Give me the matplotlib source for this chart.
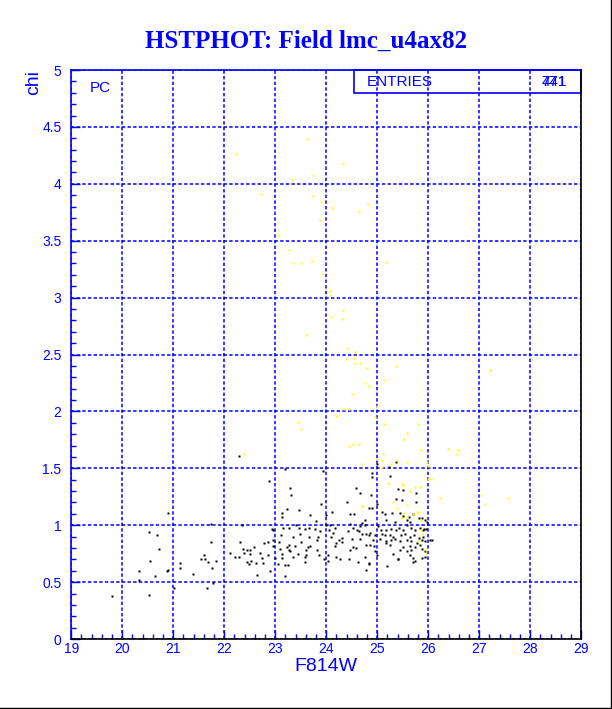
import numpy as np
import matplotlib
matplotlib.use("Agg")
import matplotlib.pyplot as plt
from matplotlib.patches import Rectangle
from matplotlib.ticker import MultipleLocator

# punti "buoni" (neri): F814W, chi
black_x = [23.20, 23.94, 22.88, 23.28, 23.30, 24.58, 24.67, 23.89, 24.40, 23.23,
           23.46, 23.13, 23.13, 23.68, 24.11, 24.47, 24.54, 24.76, 24.83, 23.80,
           23.99, 22.34, 22.93, 22.95, 23.15, 23.26, 23.40, 23.47, 23.58, 23.66,
           23.78, 23.88, 23.99, 24.07, 24.17, 24.05, 24.14, 24.46, 24.52, 24.60,
           24.66, 24.75, 24.42, 24.65, 24.77, 23.12, 23.34, 23.48, 23.67, 23.84,
           24.09, 24.31, 24.24, 24.50, 24.67, 24.83, 22.95, 23.27, 23.50, 23.81,
           24.20, 24.30, 22.77, 22.86, 22.95, 23.08, 22.31, 22.58, 23.23, 23.39,
           23.64, 23.68, 24.18, 24.53, 24.58, 24.77, 22.37, 22.44, 22.50, 23.09,
           23.27, 23.60, 23.81, 24.46, 22.11, 22.39, 22.50, 22.70, 22.86, 23.13,
           23.29, 23.45, 23.60, 23.86, 24.04, 22.21, 22.28, 22.44, 22.52, 22.62,
           22.74, 22.75, 22.99, 23.13, 23.34, 23.59, 23.96, 24.20, 24.27, 24.45,
           24.75, 22.48, 23.06, 23.20, 23.25, 23.58, 24.03, 24.62, 22.90, 24.78,
           22.64, 23.19,
           20.89, 21.73, 20.52, 20.69, 20.72, 21.73, 20.54, 20.32, 20.32, 20.65,
           20.87, 20.89, 21.13, 21.13, 21.39, 21.54, 21.60, 21.62, 21.69, 21.83,
           21.75, 21.01, 21.67, 21.77, 19.79, 20.52, 22.29,
           24.90, 24.90, 25.25, 24.88, 25.40, 25.51, 25.75, 25.00, 25.48, 25.75,
           24.90, 25.09, 25.15, 25.28, 25.45, 25.50, 25.63, 25.71, 25.82, 25.17,
           25.34, 25.58, 25.64, 25.87, 25.94, 25.97, 24.71, 25.02, 25.07, 25.18,
           25.26, 25.37, 25.43, 25.51, 25.59, 25.67, 25.74, 25.84, 25.90, 25.96,
           24.70, 24.86, 24.96, 25.09, 25.15, 25.24, 25.31, 25.46, 25.54, 25.64,
           25.72, 25.82, 25.90, 26.07, 24.92, 25.05, 25.17, 25.26, 25.35, 25.45,
           25.58, 25.67, 25.78, 25.87, 25.94, 25.17, 25.25, 24.93, 24.86, 25.51,
           25.64, 25.74, 25.84, 25.45, 25.58, 25.67, 25.87, 25.94, 24.96, 24.99,
           25.31, 25.64, 25.71, 25.87, 25.94, 25.40, 25.19, 24.84, 25.73, 24.84,
           25.71, 25.41, 25.92, 26.03, 25.22, 25.37, 25.00, 25.37]
black_y = [1.49, 1.48, 1.39, 1.33, 1.27, 1.33, 1.28, 1.19, 1.20, 1.14,
           1.13, 1.11, 1.07, 1.09, 1.12, 1.10, 1.10, 1.05, 1.15, 1.04,
           1.09, 1.00, 0.97, 0.96, 0.98, 0.98, 1.00, 0.98, 0.97, 0.98,
           0.97, 0.95, 1.00, 1.00, 0.98, 0.96, 0.93, 1.01, 0.98, 0.96,
           0.99, 1.00, 0.95, 0.95, 0.92, 0.91, 0.90, 0.92, 0.90, 0.90,
           0.90, 0.89, 0.87, 0.88, 0.88, 0.91, 0.87, 0.83, 0.85, 0.87,
           0.84, 0.85, 0.84, 0.85, 0.82, 0.85, 0.85, 0.81, 0.81, 0.82,
           0.81, 0.82, 0.82, 0.81, 0.80, 0.83, 0.79, 0.78, 0.78, 0.79,
           0.78, 0.78, 0.78, 0.78, 0.76, 0.76, 0.75, 0.76, 0.74, 0.75,
           0.77, 0.75, 0.74, 0.74, 0.74, 0.72, 0.72, 0.68, 0.69, 0.67,
           0.71, 0.67, 0.71, 0.71, 0.72, 0.72, 0.70, 0.72, 0.70, 0.70,
           0.72, 0.66, 0.66, 0.65, 0.65, 0.68, 0.69, 0.68, 0.60, 0.61,
           0.56, 0.55,
           1.11, 1.01, 0.94, 0.91, 0.79, 0.85, 0.69, 0.60, 0.52, 0.55,
           0.60, 0.61, 0.67, 0.62, 0.57, 0.70, 0.74, 0.70, 0.68, 0.69,
           0.62, 0.45, 0.45, 0.49, 0.38, 0.39, 1.61,
           1.46, 1.42, 1.43, 1.27, 1.32, 1.31, 1.28, 1.19, 1.22, 1.20,
           1.15, 1.12, 1.10, 1.11, 1.11, 1.08, 1.07, 1.10, 1.06, 1.05,
           1.03, 1.05, 1.03, 1.06, 1.05, 1.03, 1.02, 0.99, 0.96, 0.96,
           0.97, 0.96, 0.98, 0.96, 1.00, 0.98, 0.96, 0.98, 0.96, 0.97,
           0.92, 0.93, 0.91, 0.92, 0.91, 0.91, 0.90, 0.91, 0.92, 0.90,
           0.91, 0.89, 0.90, 0.87, 0.87, 0.88, 0.86, 0.87, 0.88, 0.86,
           0.87, 0.86, 0.84, 0.87, 0.86, 0.84, 0.83, 0.82, 0.83, 0.81,
           0.82, 0.81, 0.83, 0.78, 0.77, 0.78, 0.79, 0.77, 0.77, 0.74,
           0.75, 0.74, 0.71, 0.71, 0.72, 0.70, 0.64, 0.66, 0.69, 0.67,
           0.68, 0.70, 0.97, 0.87, 1.51, 1.56, 1.54, 1.23]

# punti scartati (gialli)
yellow_x = [23.62, 22.23, 24.33, 23.73, 23.33, 22.71, 23.73, 23.90, 24.82, 24.11,
            24.64, 23.88, 23.06, 23.26, 23.35, 23.50, 23.72, 23.92, 25.17, 24.08,
            24.07, 24.33, 24.10, 24.31, 23.60, 24.40, 24.56, 24.39, 24.54, 24.56,
            24.66, 24.79, 25.37, 27.21, 25.14, 24.75, 24.83, 24.50, 24.34, 24.45,
            24.99, 24.19, 24.95, 23.44, 23.50, 25.14, 25.80, 25.58, 25.52,
            26.38, 26.58, 26.56, 25.85, 25.11, 24.99, 25.09, 25.38, 25.58, 25.26,
            25.97, 25.99, 25.09, 26.00, 26.05, 25.21, 25.48, 25.50, 25.73, 25.84,
            25.65, 26.23, 27.03, 27.11, 27.56, 25.31, 25.38, 25.58, 25.52, 25.78,
            25.82, 25.71, 25.58, 25.85, 25.86, 25.80, 25.96, 25.87, 22.39, 24.44,
            24.52, 24.64, 24.71, 24.70, 25.49, 25.96]
yellow_y = [4.39, 4.26, 4.17, 4.08, 4.03, 3.91, 3.89, 3.84, 3.82, 3.79,
            3.76, 3.68, 3.55, 3.42, 3.30, 3.30, 3.32, 3.21, 3.31, 3.06,
            3.02, 2.89, 2.83, 2.81, 2.67, 2.56, 2.52, 2.46, 2.47, 2.43,
            2.43, 2.38, 2.40, 2.36, 2.28, 2.25, 2.22, 2.15, 2.02, 2.02,
            2.05, 1.96, 1.95, 1.91, 1.85, 1.89, 1.89, 1.81, 1.76,
            1.67, 1.66, 1.63, 1.66, 1.63, 1.58, 1.57, 1.57, 1.56, 1.54,
            1.56, 1.52, 1.51, 1.41, 1.41, 1.37, 1.36, 1.35, 1.34, 1.34,
            1.30, 1.24, 1.27, 1.19, 1.24, 1.20, 1.15, 1.18, 1.11, 1.12,
            1.12, 1.10, 1.07, 1.05, 0.96, 0.86, 0.78, 0.92, 1.63, 1.70,
            1.71, 1.71, 1.54, 1.17, 1.06, 0.75]

blu = '#0000ff'

fig = plt.figure(figsize=(6.12, 7.09), dpi=100)
ax = fig.add_axes([0.1165, 0.0987, 0.8333, 0.8025])

ax.plot(black_x, black_y, 's', ms=2.0, mec='none', color='black')
ax.plot(yellow_x, yellow_y, 's', ms=2.0, mec='none', color='#ffff00')

ax.set_xlim(19, 29)
ax.set_ylim(0, 5)
ax.xaxis.set_major_locator(MultipleLocator(1))
ax.xaxis.set_minor_locator(MultipleLocator(0.2))
ax.yaxis.set_major_locator(MultipleLocator(0.5))
ax.yaxis.set_minor_locator(MultipleLocator(0.1))
ax.set_yticks(np.arange(0, 5.01, 0.5))
ax.set_yticklabels(['0', '0.5', '1', '1.5', '2', '2.5', '3', '3.5', '4', '4.5', '5'])

ax.grid(True, which='major', color=blu, linestyle=(0, (2.2, 1.5)), linewidth=1.1)
ax.tick_params(which='both', direction='in', colors=blu, labelcolor=blu, width=1,
               labelsize=10, top=False, right=False)
ax.tick_params(which='major', length=6.5)
ax.tick_params(which='minor', length=3.5)
ax.tick_params(axis='y', pad=7)
ax.tick_params(axis='x', pad=2)
for lab in ax.get_xticklabels() + ax.get_yticklabels():
    lab.set_family('Liberation Sans')

ax.spines['left'].set_color(blu)
ax.spines['top'].set_color(blu)
ax.spines['bottom'].set_color('black')
ax.spines['right'].set_color('black')
for s in ax.spines.values():
    s.set_linewidth(1.2)

ax.set_xlabel('F814W', color=blu, fontsize=14, family='Liberation Sans')
ax.xaxis.set_label_coords(0.5, -0.034, transform=ax.transAxes)
ax.xaxis.label.set_verticalalignment('top')
ax.set_ylabel('chi', color=blu, fontsize=14, family='Liberation Sans')
ax.yaxis.set_label_coords(-0.058, 1.0)
ax.yaxis.label.set_horizontalalignment('right')

fig.text(0.5, 0.942, 'HSTPHOT: Field lmc_u4ax82', ha='center', va='center',
         color=blu, fontsize=18, fontweight='bold', family='Liberation Serif')

ax.text(0.037, 0.968, 'PC', transform=ax.transAxes, color=blu, fontsize=11,
        family='Liberation Sans', va='center')

# riquadro statistiche
ax.add_patch(Rectangle((0.554, 0.96), 0.446, 0.04, transform=ax.transAxes,
                       fill=False, edgecolor=blu, linewidth=1.2, clip_on=False))
ax.text(0.580, 0.979, 'ENTRIES', transform=ax.transAxes, color=blu, fontsize=11,
        family='Liberation Sans', va='center')
ax.text(0.972, 0.979, '441', transform=ax.transAxes, color=blu, fontsize=11,
        family='Liberation Sans', va='center', ha='right')
ax.text(0.972, 0.979, '771', transform=ax.transAxes, color=blu, fontsize=11,
        family='Liberation Sans', va='center', ha='right')

# bordo della figura (destra e sotto)
fig.add_artist(plt.Line2D([0.998, 0.998], [0, 1], color='black', lw=1))
fig.add_artist(plt.Line2D([0, 1], [0.0015, 0.0015], color='black', lw=1))

fig.savefig('out.png', dpi=100)
